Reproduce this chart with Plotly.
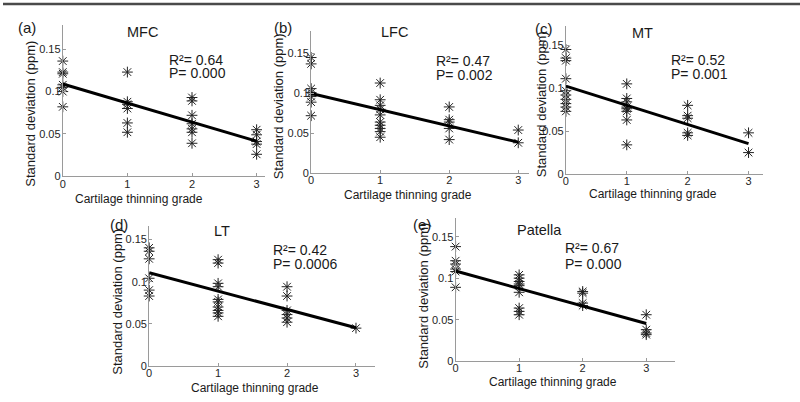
import plotly.graph_objects as go

# ---------------- data ----------------
panel_labels = ["(a)", "(b)", "(c)", "(d)", "(e)"]
regions = ["MFC", "LFC", "MT", "LT", "Patella"]
r2_values = ["0.64", "0.47", "0.52", "0.42", "0.67"]
p_values = ["0.000", "0.002", "0.001", "0.0006", "0.000"]

x_tick_vals = [0, 1, 2, 3]
x_tick_text = ["0", "1", "2", "3"]
y_tick_vals = [0, 0.05, 0.1, 0.15]
y_tick_text = ["0", "0.05", "0.1", "0.15"]
x_title = "Cartilage thinning grade"
y_title = "Standard deviation (ppm)"

# standard deviation per cartilage thinning grade (0, 1, 2, 3)
mfc_sd = [[0.136, 0.123, 0.121, 0.108, 0.105, 0.100, 0.082],
          [0.123, 0.088, 0.085, 0.080, 0.063, 0.052],
          [0.093, 0.089, 0.072, 0.062, 0.056, 0.052, 0.039],
          [0.055, 0.049, 0.041, 0.038, 0.026]]
lfc_sd = [[0.145, 0.137, 0.106, 0.101, 0.096, 0.089, 0.072],
          [0.113, 0.092, 0.085, 0.080, 0.073, 0.064, 0.060, 0.056, 0.052, 0.045],
          [0.083, 0.067, 0.064, 0.056, 0.042],
          [0.054, 0.038]]
mt_sd = [[0.145, 0.135, 0.132, 0.111, 0.097, 0.092, 0.087, 0.082, 0.078, 0.073],
         [0.105, 0.088, 0.084, 0.078, 0.076, 0.073, 0.063, 0.034],
         [0.080, 0.068, 0.065, 0.048, 0.045],
         [0.048, 0.025]]
lt_sd = [[0.140, 0.136, 0.127, 0.104, 0.090, 0.083],
         [0.126, 0.122, 0.098, 0.094, 0.079, 0.076, 0.070, 0.066, 0.063, 0.059],
         [0.094, 0.083, 0.066, 0.061, 0.057, 0.052],
         [0.045]]
patella_sd = [[0.138, 0.121, 0.117, 0.111, 0.108, 0.089],
              [0.104, 0.100, 0.096, 0.093, 0.091, 0.083, 0.064, 0.060, 0.056],
              [0.084, 0.082, 0.070, 0.067],
              [0.056, 0.038, 0.034, 0.032]]
all_sd = [mfc_sd, lfc_sd, mt_sd, lt_sd, patella_sd]

# regression line values at grade 0 and grade 3
fit_at_0 = [0.109, 0.100, 0.1024, 0.1105, 0.1086]
fit_at_3 = [0.0415, 0.0388, 0.0355, 0.0454, 0.0455]

# ---------------- layout geometry (pixels) ----------------
W, H = 800, 402
# left, right, top, bottom of each axes box
boxes = [(60, 263, 25, 179),
         (309.3, 528, 31.7, 175.7),
         (565, 763, 26.7, 176.7),
         (146.7, 373, 229.3, 371.7),
         (454.3, 675, 221.7, 366.7)]
x_max = [3.13, 3.156, 3.24, 3.27, 3.46]
y_max = [0.179, 0.178, 0.172, 0.166, 0.172]

# text positions (pixels)
lbl_pos = [(14, 27.5), (271, 27.5), (532.5, 29), (106, 227.5), (411, 227.5)]
reg_pos = [(140, 32.5), (393.3, 32.5), (641.7, 33), (220, 234.5), (538.3, 233)]
r2_pos = [(166, 60.5), (433.3, 61.7), (669.3, 60.7), (270, 253.3), (563.3, 251.7)]
p_pos = [(166, 74.5), (433.3, 76), (669.3, 75), (270, 268.3), (563.3, 268.3)]
ytitle_pos = [(26.7, 115.8), (276.7, 108.3), (540, 105.8), (115, 306.7), (421.7, 300)]
xtitle_pos = [(137, 202.5), (406.7, 197.5), (652.5, 197), (252.5, 393.5), (551.7, 387.5)]

FONT = "Liberation Sans, Arial, sans-serif"
AXIS_COLOR = "#9a9a9a"
TEXT_COLOR = "#262626"


def px(x):
    return x / W


def py(y):
    return 1 - y / H


fig = go.Figure()
annotations = []

for i in range(5):
    sfx = "" if i == 0 else str(i + 1)
    xs, ys = [], []
    for g, vals in zip(x_tick_vals, all_sd[i]):
        xs += [g] * len(vals)
        ys += vals
    fig.add_trace(go.Scatter(
        x=xs, y=ys, mode="markers", xaxis="x" + sfx, yaxis="y" + sfx,
        marker=dict(symbol="asterisk-open", size=9, color="#222222",
                    line=dict(width=1, color="#222222")),
        cliponaxis=False, showlegend=False, hoverinfo="x+y"))
    fig.add_trace(go.Scatter(
        x=[x_tick_vals[0], x_tick_vals[-1]], y=[fit_at_0[i], fit_at_3[i]],
        mode="lines", xaxis="x" + sfx, yaxis="y" + sfx,
        line=dict(color="black", width=3), cliponaxis=False,
        showlegend=False))

    l, r, t, b = boxes[i]
    common = dict(showline=True, linecolor=AXIS_COLOR, linewidth=1,
                  ticks="inside", ticklen=3, tickcolor=AXIS_COLOR,
                  showgrid=False, zeroline=False,
                  tickfont=dict(family=FONT, size=11, color=TEXT_COLOR),
                  fixedrange=True)
    fig.update_layout(**{
        "xaxis" + sfx: dict(domain=[px(l), px(r)], range=[0, x_max[i]],
                            anchor="y" + sfx, tickvals=x_tick_vals,
                            ticktext=x_tick_text, ticklabelstandoff=-3,
                            **common),
        "yaxis" + sfx: dict(domain=[py(b), py(t)], range=[0, y_max[i]],
                            anchor="x" + sfx, tickvals=y_tick_vals,
                            ticktext=y_tick_text, ticklabelstandoff=-1,
                            **common),
    })

    def ann(text, pos, size, xanchor="left", angle=0):
        annotations.append(dict(
            text=text, x=px(pos[0]), y=py(pos[1]), xref="paper", yref="paper",
            xanchor=xanchor, yanchor="middle", showarrow=False,
            textangle=angle, borderpad=0,
            font=dict(family=FONT, size=size, color="#1a1a1a")))

    ann(panel_labels[i], lbl_pos[i], 15)
    ann(regions[i], reg_pos[i], 14.5, xanchor="center")
    ann("R²= " + r2_values[i], r2_pos[i], 14)
    ann("P= " + p_values[i], p_pos[i], 14)
    ann(y_title, ytitle_pos[i], 13, xanchor="center", angle=-90)
    ann(x_title, xtitle_pos[i], 12, xanchor="center")

fig.update_layout(
    width=W, height=H, margin=dict(l=0, r=0, t=0, b=0),
    paper_bgcolor="white", plot_bgcolor="white",
    annotations=annotations,
    shapes=[dict(type="line", xref="paper", yref="paper", x0=0, x1=1,
                 y0=py(4), y1=py(4), line=dict(color="#4a4a4a", width=2.5))],
)

fig.write_html(
    "out.html",
    config={"displayModeBar": False},
    post_script="document.body.style.margin='0px';"
                "document.body.style.overflow='hidden';")
